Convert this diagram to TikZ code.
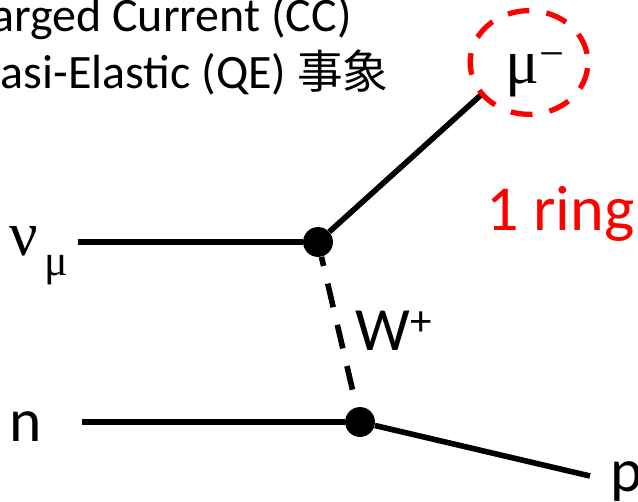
\documentclass[tikz,border=0pt]{standalone}
\usepackage{fontspec}
\setmainfont{Carlito}
\newfontfamily\cjkfont{Noto Sans CJK JP}
\newfontfamily\greekfont{Liberation Serif}
\usetikzlibrary{shapes.geometric}
\tikzset{
    line/.style={line width=3.2pt},
    wline/.style={line width=3.2pt, dash pattern=on 13.8pt off 10.3pt, dash phase=8.5pt},
    vertex/.style={circle, fill=black, inner sep=0pt, minimum size=17pt},
    ring/.style={draw=red, line width=3pt, ellipse, dash pattern=on 12.4pt off 9.8pt, dash phase=17.3pt, inner sep=0pt, minimum width=67pt, minimum height=59pt},
    title/.style={inner sep=0pt, anchor=base east, font=\fontsize{27.3}{30}\selectfont},
    label/.style={inner sep=0pt, anchor=base west, font=\fontsize{35}{40}\selectfont},
    symbol/.style={inner sep=0pt, anchor=base west, font=\greekfont\fontsize{36}{40}\selectfont}
}
\begin{document}
\begin{tikzpicture}[x=0.02cm, y=-0.02cm]
    \useasboundingbox[clip] (0,0) rectangle (638,502);

    % Heading
    \node[title] (cc) at (352,32) {arged Current (CC)};
    \node[title] (qe) at (389,89) {asi-Elastic (QE) {\cjkfont\fontsize{26}{30}\selectfont 事象}};

    % Vertices and free line ends
    \node[vertex] (upper) at (318,242) {};
    \node[vertex] (lower) at (360,422) {};
    \coordinate (nustart) at (78,242);
    \coordinate (muend) at (482,94);
    \coordinate (nstart) at (82,422);
    \coordinate (pend) at (590,476);

    % Lines
    \draw[line] (nustart) -- (upper);
    \draw[line] (upper) -- (muend);
    \draw[line] (nstart) -- (lower);
    \draw[line] (lower) -- (pend);
    \draw[wline] (upper) -- (lower);

    % Particles
    \node[symbol] (nu) at (9,256) {ν};
    \node[symbol, font=\greekfont\fontsize{25}{30}\selectfont] (nusub) at (44,276) {μ};
    \node[label] (n) at (9,441) {n};
    \node[label] (p) at (610,491) {p};
    \node[label] (w) at (355,351) {W\textsuperscript{+}};
    \node[symbol] (mu) at (505,84) {μ\textsuperscript{−}};

    % Ring
    \node[ring] (mucircle) at (529,62.5) {};
    \node[label, text=red, font=\fontsize{36.5}{40}\selectfont] (nring) at (486,231) {1 ring};

\end{tikzpicture}
\end{document}
